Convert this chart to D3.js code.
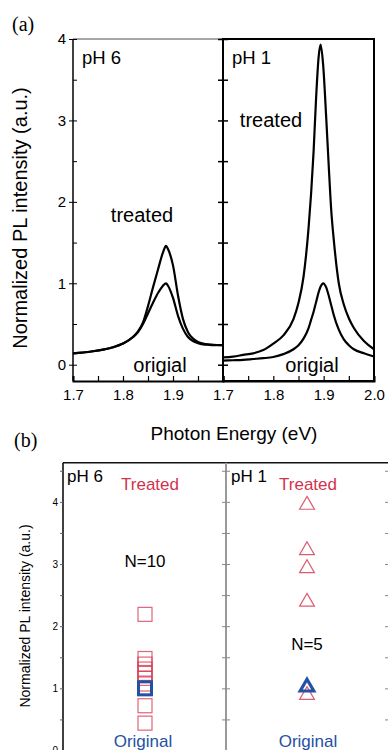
<!DOCTYPE html>
<html>
<head>
<meta charset="utf-8">
<script src="https://cdn.jsdelivr.net/npm/d3@7"></script>
<style>
  body { margin: 0; background: #fff; }
  svg { display: block; font-family: "Liberation Sans", Arial, sans-serif; }
</style>
</head>
<body>
<svg id="chart" width="388" height="750"></svg>
<script>
// ---- panel (a) spectra ----
const ph6Energy   = [1.70,1.72,1.74,1.76,1.78,1.80,1.82,1.83,1.84,1.85,1.86,1.87,1.88,1.886,1.89,1.90,1.91,1.92,1.93,1.94,1.95,1.96,1.97,1.98,2.00];
const ph6Original = [0.14,0.15,0.165,0.185,0.215,0.26,0.34,0.40,0.50,0.63,0.76,0.88,0.97,1.00,0.97,0.82,0.60,0.44,0.34,0.29,0.265,0.25,0.245,0.24,0.24];
const ph6Treated  = [0.14,0.15,0.165,0.185,0.215,0.26,0.34,0.41,0.52,0.72,0.95,1.17,1.38,1.46,1.42,1.22,0.85,0.56,0.40,0.32,0.28,0.26,0.25,0.245,0.24];

const ph1Energy   = [1.70,1.72,1.74,1.76,1.78,1.80,1.82,1.84,1.85,1.86,1.87,1.875,1.88,1.885,1.89,1.894,1.899,1.905,1.91,1.915,1.92,1.93,1.94,1.95,1.96,1.98,2.00];
const ph1Original = [0.05,0.055,0.06,0.07,0.08,0.095,0.13,0.19,0.24,0.32,0.45,0.55,0.65,0.77,0.89,0.96,1.00,0.95,0.85,0.73,0.61,0.43,0.31,0.24,0.19,0.14,0.10];
const ph1Treated  = [0.09,0.10,0.12,0.14,0.18,0.26,0.36,0.56,0.76,1.08,1.68,2.10,2.62,3.28,3.78,3.93,3.68,3.04,2.45,1.90,1.54,1.00,0.74,0.57,0.45,0.29,0.19];

const energyTicks = [1.7, 1.8, 1.9, 2.0];
const intensityTicks = [0, 1, 2, 3, 4];

// ---- panel (b) statistics ----
const ph6TreatedRatio = [2.19, 1.48, 1.39, 1.31, 1.24, 1.16, 1.07, 1.0, 0.72, 0.44];
const ph6OriginalRatio = [1.0];
const ph1TreatedRatio = [3.95, 3.22, 2.93, 2.39, 0.89];
const ph1OriginalRatio = [1.02];

const RED = "#d3324e";
const BLUE = "#2451a3";

const svg = d3.select("#chart");

// ================= panel (a) =================
const yA = d3.scaleLinear().domain([-0.2, 4]).range([381, 39]);
const xA6 = d3.scaleLinear().domain([1.7, 2.0]).range([73, 223]);
const xA1 = d3.scaleLinear().domain([1.7, 2.0]).range([223, 374]);
const minorY = d3.range(0, 4.01, 0.5);
const minorX = d3.range(1.7, 2.001, 0.05);

function drawCurve(x, xs, ys) {
  const line = d3.line()
    .x(d => x(d[0]))
    .y(d => yA(d[1]))
    .curve(d3.curveMonotoneX);
  svg.append("path")
    .datum(xs.map((v, i) => [v, ys[i]]))
    .attr("d", line)
    .attr("fill", "none")
    .attr("stroke", "#000")
    .attr("stroke-width", 2.2)
    .attr("stroke-linejoin", "round");
}
drawCurve(xA6, ph6Energy, ph6Original);
drawCurve(xA6, ph6Energy, ph6Treated);
drawCurve(xA1, ph1Energy, ph1Original);
drawCurve(xA1, ph1Energy, ph1Treated);

// left panel top edge (gray) and right panel box
svg.append("line").attr("x1", 73).attr("x2", 223).attr("y1", 39).attr("y2", 39)
  .attr("stroke", "#888").attr("stroke-width", 1.5);
svg.append("rect").attr("x", 223).attr("y", 39).attr("width", 151).attr("height", 342)
  .attr("fill", "none").attr("stroke", "#000").attr("stroke-width", 2);

// left y axis
const leftA = svg.append("g").attr("transform", "translate(73,0)")
  .call(d3.axisLeft(yA).tickValues(intensityTicks).tickSize(4).tickPadding(3).tickFormat(d3.format("d")));
leftA.select(".domain").attr("stroke-width", 1.5).attr("d", "M0,39V381");
leftA.selectAll("text").attr("font-size", 15).attr("font-family", "Liberation Sans, Arial, sans-serif");
svg.append("g").attr("transform", "translate(73,0)")
  .call(d3.axisRight(yA).tickValues(minorY).tickSize(4).tickFormat(""))
  .select(".domain").remove();

// ticks on both sides of the divider
[d3.axisRight, d3.axisLeft].forEach(ax => {
  svg.append("g").attr("transform", "translate(223,0)")
    .call(ax(yA).tickValues(minorY).tickSize(5).tickFormat(""))
    .call(g => g.select(".domain").remove())
    .selectAll("line").attr("stroke-width", 1.5);
});

// bottom axes
[[xA6, [1.7, 1.8, 1.9]], [xA1, energyTicks]].forEach(([x, labels]) => {
  svg.append("g").attr("transform", "translate(0,381)")
    .call(d3.axisBottom(x).tickValues(minorX).tickSize(-5).tickFormat(""))
    .call(g => g.select(".domain").attr("stroke-width", 2))
    .selectAll("line").attr("stroke-width", 1.2);
  svg.append("g").attr("transform", "translate(0,381)")
    .call(d3.axisBottom(x).tickValues(labels).tickSize(0).tickPadding(8).tickFormat(d3.format(".1f")))
    .call(g => g.select(".domain").remove())
    .selectAll("text").attr("font-size", 15).attr("font-family", "Liberation Sans, Arial, sans-serif");
});

// labels (a)
svg.append("text").attr("x", 12).attr("y", 31).attr("font-family", "Liberation Serif, Times New Roman, serif")
  .attr("font-size", 20).text("(a)");
svg.append("text").attr("x", 82).attr("y", 64).attr("font-size", 18.5).text("pH 6");
svg.append("text").attr("x", 232).attr("y", 64).attr("font-size", 18.5).text("pH 1");
svg.append("text").attr("x", 142).attr("y", 222).attr("text-anchor", "middle").attr("font-size", 20).text("treated");
svg.append("text").attr("x", 271).attr("y", 127).attr("text-anchor", "middle").attr("font-size", 20).text("treated");
svg.append("text").attr("x", 160).attr("y", 372).attr("text-anchor", "middle").attr("font-size", 20).text("origial");
svg.append("text").attr("x", 312).attr("y", 372).attr("text-anchor", "middle").attr("font-size", 20).text("origial");
svg.append("text").attr("transform", "translate(27,218) rotate(-90)").attr("text-anchor", "middle")
  .attr("font-size", 20).text("Normalized PL intensity (a.u.)");
svg.append("text").attr("x", 234).attr("y", 440).attr("text-anchor", "middle")
  .attr("font-size", 19).text("Photon Energy (eV)");

// ================= panel (b) =================
const yB = d3.scaleLinear().domain([0, 4.63]).range([750.5, 462.7]);
const xB6 = 145, xB1 = 307;
const minorB = d3.range(0, 4.51, 0.5);

svg.append("text").attr("x", 14).attr("y", 447).attr("font-family", "Liberation Serif, Times New Roman, serif")
  .attr("font-size", 20).text("(b)");

// frame
svg.append("line").attr("x1", 63).attr("x2", 388).attr("y1", 462.7).attr("y2", 462.7)
  .attr("stroke", "#111").attr("stroke-width", 1.5);
const leftB = svg.append("g").attr("transform", "translate(63,0)")
  .call(d3.axisLeft(yB).tickValues(minorB).tickSize(3).tickPadding(2)
    .tickFormat(d => Number.isInteger(d) ? d : ""));
leftB.select(".domain").attr("d", "M0,462.7V750").attr("stroke-width", 1.5);
leftB.selectAll("line").attr("stroke", "#666");
leftB.selectAll("text").attr("font-size", 10).attr("font-family", "Liberation Sans, Arial, sans-serif");

svg.append("line").attr("x1", 226).attr("x2", 226).attr("y1", 462.7).attr("y2", 750)
  .attr("stroke", "#999").attr("stroke-width", 2);
[d3.axisRight, d3.axisLeft].forEach(ax => {
  svg.append("g").attr("transform", "translate(226,0)")
    .call(ax(yB).tickValues(minorB).tickSize(4).tickFormat(""))
    .call(g => g.select(".domain").remove())
    .selectAll("line").attr("stroke", "#888");
});
svg.append("g").attr("transform", "translate(388,0)")
  .call(d3.axisLeft(yB).tickValues(minorB).tickSize(3).tickFormat(""))
  .call(g => g.select(".domain").remove())
  .selectAll("line").attr("stroke", "#888");

// squares (pH 6)
svg.append("g").selectAll("rect").data(ph6TreatedRatio).join("rect")
  .attr("x", xB6 - 7).attr("y", d => yB(d) - 7).attr("width", 14).attr("height", 14)
  .attr("fill", "none").attr("stroke", RED).attr("stroke-opacity", 0.75).attr("stroke-width", 1.2);
svg.append("g").selectAll("rect").data(ph6OriginalRatio).join("rect")
  .attr("x", xB6 - 6.5).attr("y", d => yB(d) - 6.5).attr("width", 13).attr("height", 13)
  .attr("fill", "none").attr("stroke", BLUE).attr("stroke-width", 3);

// triangles (pH 1)
const tri = d3.symbol().type(d3.symbolTriangle).size(95);
svg.append("g").selectAll("path").data(ph1TreatedRatio).join("path")
  .attr("d", tri).attr("transform", d => `translate(${xB1},${yB(d)})`)
  .attr("fill", "none").attr("stroke", RED).attr("stroke-opacity", 0.8).attr("stroke-width", 1.2);
svg.append("g").selectAll("path").data(ph1OriginalRatio).join("path")
  .attr("d", d3.symbol().type(d3.symbolTriangle).size(80)).attr("transform", d => `translate(${xB1},${yB(d)})`)
  .attr("fill", "none").attr("stroke", BLUE).attr("stroke-width", 3.2);

// labels (b)
svg.append("text").attr("x", 67).attr("y", 482).attr("font-size", 17).text("pH 6");
svg.append("text").attr("x", 231).attr("y", 482).attr("font-size", 17).text("pH 1");
[[150, "Treated", 490, RED], [308, "Treated", 490, RED],
 [145, "N=10", 567, "#000"], [307, "N=5", 650, "#000"],
 [143, "Original", 747, BLUE], [308, "Original", 747, BLUE]].forEach(([x, t, y, c]) => {
  svg.append("text").attr("x", x).attr("y", y).attr("text-anchor", "middle")
    .attr("font-size", 17).attr("fill", c).text(t);
});
svg.append("text").attr("transform", "translate(30,616) rotate(-90)").attr("text-anchor", "middle")
  .attr("font-size", 14).text("Normalized PL intensity (a.u.)");
</script>
</body>
</html>
